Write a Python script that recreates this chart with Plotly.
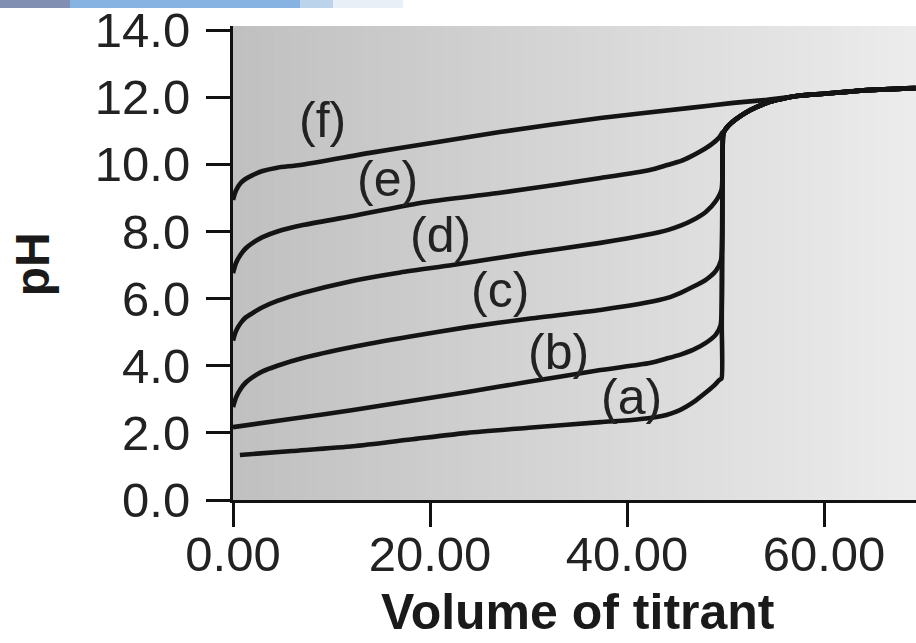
import plotly.graph_objects as go

# ---- data ----
labels = ["(a)", "(b)", "(c)", "(d)", "(e)", "(f)"]

vol_a = [0.7, 6.0, 12.2, 18.0, 23.8, 30.0, 37.3, 41.0, 43.0, 44.0, 45.0, 46.0, 47.0, 48.0, 48.8, 49.4]
ph_a  = [1.34, 1.46, 1.60, 1.80, 2.00, 2.15, 2.32, 2.40, 2.47, 2.53, 2.63, 2.78, 2.97, 3.20, 3.40, 3.58]

vol_b = [0.0, 6.0, 12.2, 18.0, 23.8, 30.0, 37.3, 42.3, 44.1, 45.5, 46.7, 48.0, 49.0, 49.5]
ph_b  = [2.17, 2.42, 2.68, 2.95, 3.22, 3.52, 3.87, 4.08, 4.22, 4.34, 4.47, 4.68, 4.92, 5.20]

vol_c = [0.0, 0.3, 0.8, 1.3, 2.0, 3.0, 4.5, 7.1, 12.0, 18.0, 23.8, 30.0, 37.3, 42.0, 44.1, 45.5, 46.7, 48.0, 49.0, 49.55]
ph_c  = [2.77, 3.05, 3.32, 3.50, 3.66, 3.83, 4.00, 4.23, 4.55, 4.87, 5.15, 5.40, 5.66, 5.88, 6.02, 6.18, 6.35, 6.56, 6.82, 7.15]

vol_d = [0.0, 0.3, 0.8, 1.3, 2.0, 3.0, 4.5, 7.1, 12.0, 17.0, 22.3, 30.0, 37.3, 42.0, 44.1, 45.5, 46.7, 48.0, 49.0, 49.6]
ph_d  = [4.75, 5.03, 5.28, 5.44, 5.57, 5.74, 5.93, 6.17, 6.52, 6.78, 7.00, 7.35, 7.66, 7.90, 8.04, 8.18, 8.34, 8.58, 8.90, 9.25]

vol_e = [0.0, 0.3, 0.8, 1.3, 2.0, 3.0, 4.5, 7.1, 12.0, 19.0, 27.1, 33.0, 37.3, 42.3, 44.1, 45.5, 46.4, 47.6, 48.6, 49.3, 49.7]
ph_e  = [6.76, 7.06, 7.32, 7.50, 7.66, 7.83, 8.00, 8.19, 8.45, 8.85, 9.15, 9.40, 9.59, 9.83, 9.98, 10.10, 10.22, 10.41, 10.60, 10.78, 10.95]

vol_f = [0.0, 0.3, 0.8, 1.3, 2.0, 3.0, 4.5, 6.8, 13.9, 20.0, 27.1, 37.3, 46.4, 50.8, 54.2, 57.6, 60.0, 64.4, 69.3]
ph_f  = [8.94, 9.22, 9.45, 9.57, 9.68, 9.80, 9.90, 9.98, 10.34, 10.63, 10.96, 11.38, 11.68, 11.83, 11.92, 12.04, 12.10, 12.21, 12.27]

# shared branch after the equivalence point (vertical rise, then excess titrant)
vol_tail = [49.6, 49.62, 49.65, 49.68, 49.7, 49.72, 49.75, 49.9, 50.3, 51.0, 52.0, 53.2, 54.5, 56.0, 57.6, 60.0, 64.4, 69.3]
ph_tail  = [3.62, 5.20, 7.15, 9.25, 10.2, 10.6, 10.85, 11.0, 11.15, 11.33, 11.53, 11.71, 11.86, 11.97, 12.05, 12.10, 12.21, 12.27]

label_vol = [40.5, 33.0, 27.1, 21.1, 15.7, 9.1]
label_ph  = [3.07, 4.41, 6.26, 7.89, 9.56, 11.32]

x_ticks = [0, 20, 40, 60]
y_ticks = [0, 2, 4, 6, 8, 10, 12, 14]

X_MAX = 69.34
Y_MAX = 14.12

FONT = "Arial, Liberation Sans, Helvetica, sans-serif"
LINE = "#141414"
LW = 4.6

fig = go.Figure()

curves = [(vol_a, ph_a), (vol_b, ph_b), (vol_c, ph_c), (vol_d, ph_d), (vol_e, ph_e)]
for v, p in curves:
    join = p[-1]
    tv = [tv_ for tv_, tp_ in zip(vol_tail, ph_tail) if tp_ > join + 0.01]
    tp = [tp_ for tp_ in ph_tail if tp_ > join + 0.01]
    fig.add_trace(go.Scatter(x=v + tv, y=p + tp, mode="lines",
                             line=dict(color=LINE, width=LW, shape="spline", smoothing=0.6),
                             hoverinfo="skip", showlegend=False))
fig.add_trace(go.Scatter(x=vol_f, y=ph_f, mode="lines",
                         line=dict(color=LINE, width=LW, shape="spline", smoothing=0.6),
                         hoverinfo="skip", showlegend=False))

for lab, lx, ly in zip(labels, label_vol, label_ph):
    fig.add_annotation(x=lx, y=ly, text=lab, showarrow=False,
                       font=dict(family=FONT, size=50, color="#222222"))

# horizontal gradient background of the plot area
shapes = []
N = 120
c0, c1 = 0xC0, 0xEC
for i in range(N):
    t = i / (N - 1)
    c = int(round(c0 + (c1 - c0) * t))
    col = f"rgb({c},{c},{c})"
    shapes.append(dict(type="rect", xref="paper", yref="paper",
                       x0=i / N, x1=(i + 1) / N + 0.002, y0=0, y1=1,
                       fillcolor=col, line=dict(width=0), layer="below"))

# cropped watermark strip at the very top of the picture
for x0, x1, col in [(-233, -163, "#8190b2"), (-163, 67, "#86b3e2"),
                    (67, 100, "#bcd3ec"), (100, 170, "#e8eff7")]:
    shapes.append(dict(type="rect", xref="paper", yref="paper",
                       xsizemode="pixel", xanchor=0, x0=x0, x1=x1,
                       ysizemode="pixel", yanchor=1, y0=18, y1=26,
                       fillcolor=col, line=dict(width=0), layer="above"))

fig.update_layout(
    width=916, height=643,
    margin=dict(l=233, r=0, t=26, b=143),
    paper_bgcolor="white", plot_bgcolor="#d8d8d8",
    shapes=shapes,
    font=dict(family=FONT, color="#222222"),
    showlegend=False,
)

fig.update_xaxes(range=[0, X_MAX], tickvals=x_ticks, tickformat=".2f",
                 ticks="outside", ticklen=24, tickwidth=2.5, tickcolor="#111",
                 showline=True, linewidth=3, linecolor="#111",
                 showgrid=False, zeroline=False, ticklabelstandoff=-15,
                 tickfont=dict(family=FONT, size=49, color="#222"))
fig.update_yaxes(range=[0, Y_MAX], tickvals=y_ticks, tickformat=".1f",
                 ticks="outside", ticklen=24, tickwidth=2.5, tickcolor="#111",
                 showline=True, linewidth=3, linecolor="#111",
                 showgrid=False, zeroline=False, ticklabelstandoff=6,
                 tickfont=dict(family=FONT, size=49, color="#222"))

fig.add_annotation(xref="x", yref="paper", x=35.0, y=0, yshift=-112,
                   xanchor="center", yanchor="middle",
                   text="<b>Volume of titrant</b>", showarrow=False,
                   font=dict(family=FONT, size=50, color="#1a1a1a"))
fig.add_annotation(xref="paper", yref="y", x=-0.294, y=7.03, textangle=-90,
                   xanchor="center", yanchor="middle",
                   text="<b>pH</b>", showarrow=False,
                   font=dict(family=FONT, size=48, color="#1a1a1a"))

fig.write_html("out.html")
